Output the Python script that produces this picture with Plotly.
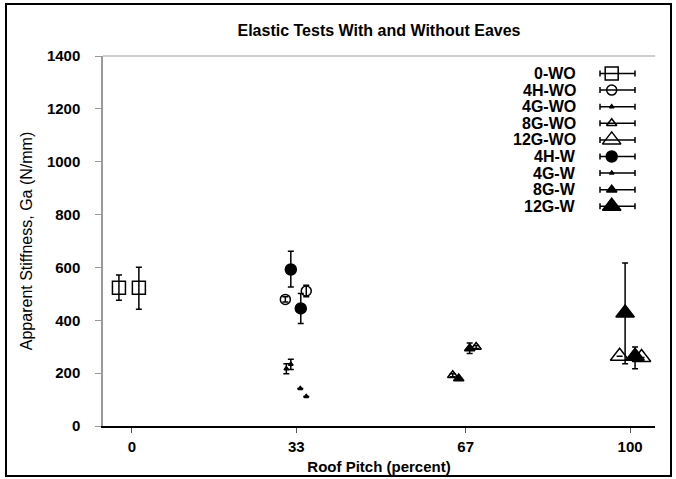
import plotly.graph_objects as go

# ---------------- data ----------------
series_names = ["0-WO", "4H-WO", "4G-WO", "8G-WO", "12G-WO", "4H-W", "4G-W", "8G-W", "12G-W"]
pitch = {
    "0-WO":   [-2.6, 1.4],
    "4H-WO":  [30.8, 35.0],
    "4G-WO":  [31.0, 31.9],
    "8G-WO":  [64.4, 69.1],
    "12G-WO": [97.9, 102.3],
    "4H-W":   [31.9, 33.9],
    "4G-W":   [33.8, 35.0],
    "8G-W":   [65.6, 67.8],
    "12G-W":  [99.0, 101.0],
}
stiffness = {
    "0-WO":   [523, 523],
    "4H-WO":  [479, 511],
    "4G-WO":  [217, 234],
    "8G-WO":  [192, 299],
    "12G-WO": [264, 259],
    "4H-W":   [592, 445],
    "4G-W":   [142, 112],
    "8G-W":   [180, 293],
    "12G-W":  [428, 264],
}
err_plus = {
    "0-WO":   [48, 78],
    "4H-WO":  [10, 22],
    "4G-WO":  [19, 19],
    "8G-WO":  [6, 6],
    "12G-WO": [0, 0],
    "4H-W":   [69, 56],
    "4G-W":   [0, 0],
    "8G-W":   [0, 21],
    "12G-W":  [189, 35],
}
err_minus = {
    "0-WO":   [47, 81],
    "4H-WO":  [10, 22],
    "4G-WO":  [19, 20],
    "8G-WO":  [6, 6],
    "12G-WO": [0, 0],
    "4H-W":   [66, 57],
    "4G-W":   [0, 0],
    "8G-W":   [0, 19],
    "12G-W":  [192, 47],
}
x_ticks = [0, 33, 67, 100]
y_ticks = [0, 200, 400, 600, 800, 1000, 1200, 1400]

# ---------------- styles ----------------
styles = {
    "0-WO":   dict(symbol="square-open", size=13),
    "4H-WO":  dict(symbol="circle-open", size=10),
    "4G-WO":  dict(symbol="triangle-up", size=4),
    "8G-WO":  dict(symbol="triangle-up-open", size=9),
    "12G-WO": dict(symbol="triangle-up-open", size=16),
    "4H-W":   dict(symbol="circle", size=11),
    "4G-W":   dict(symbol="triangle-up", size=4),
    "8G-W":   dict(symbol="triangle-up", size=9),
    "12G-W":  dict(symbol="triangle-up", size=16),
}

W, H = 676, 479
L, R, T, B = 103, 21, 56, 53
PW, PH = W - L - R, H - T - B
XR = [-5.8, 105.0]
YR = [0, 1400]
FONT = "Liberation Sans, Arial, sans-serif"


def px(xp):
    return (xp - L) / PW


def py(yp):
    return (H - B - yp) / PH


fig = go.Figure()

for name in series_names:
    st = styles[name]
    fig.add_trace(go.Scatter(
        x=pitch[name], y=stiffness[name], mode="markers", name=name,
        marker=dict(symbol=st["symbol"], size=st["size"], color="black",
                    line=dict(color="black", width=1.5)),
        error_y=dict(type="data", symmetric=False, array=err_plus[name],
                     arrayminus=err_minus[name], color="black", thickness=1.5, width=3),
        showlegend=False, cliponaxis=False,
    ))

# custom legend (text left, marker with horizontal bar right)
leg_x_marker = 611.7
leg_y0, leg_dy = 73.5, 16.6
for i, name in enumerate(series_names):
    st = styles[name]
    yy = leg_y0 + i * leg_dy
    fig.add_trace(go.Scatter(
        x=[leg_x_marker], y=[yy], mode="markers", xaxis="x3", yaxis="y3",
        marker=dict(symbol=st["symbol"], size=st["size"], color="black",
                    line=dict(color="black", width=1.5)),
        error_x=dict(type="data", symmetric=False, array=[23.3], arrayminus=[11.7],
                     color="black", thickness=1.5, width=3),
        showlegend=False, hoverinfo="skip", cliponaxis=False,
    ))
    fig.add_annotation(x=px(578), y=py(yy), xref="paper", yref="paper",
                       text=name, showarrow=False, xanchor="right", yanchor="middle",
                       font=dict(family=FONT, size=16, color="black", weight="bold"))

fig.update_layout(
    width=W, height=H,
    margin=dict(l=L, r=R, t=T, b=B, pad=0, autoexpand=False),
    paper_bgcolor="white", plot_bgcolor="white",
    showlegend=False,
    title=dict(text="Elastic Tests With and Without Eaves", x=0.5, xref="paper",
               y=1 - 30 / H, yanchor="middle",
               font=dict(family=FONT, size=16, color="black", weight="bold")),
    xaxis=dict(range=XR, tickvals=x_ticks, ticktext=[str(v) for v in x_ticks],
               automargin=False,
               showgrid=False, zeroline=False, showline=True, linecolor="black", linewidth=1.5,
               ticks="outside", ticklen=5, tickcolor="#555", tickwidth=1,
               ticklabelstandoff=1,
               tickfont=dict(family=FONT, size=15, color="black", weight="bold"),
               title=dict(text="Roof Pitch (percent)", standoff=8,
                          font=dict(family=FONT, size=15, color="black", weight="bold"))),
    xaxis2=dict(range=XR, overlaying="x", anchor="y", side="bottom", tickvals=x_ticks,
                automargin=False,
                showticklabels=False, showgrid=False, zeroline=False, showline=False,
                ticks="inside", ticklen=5, tickcolor="#555", tickwidth=1),
    yaxis=dict(range=YR, tickvals=y_ticks, showgrid=False, zeroline=False,
               automargin=False,
               showline=True, linecolor="#999", linewidth=1.5,
               ticks="outside", ticklen=6, tickcolor="#999", tickwidth=1,
               ticklabelstandoff=12,
               tickfont=dict(family=FONT, size=15, color="black", weight="bold"),
               title=dict(text="Apparent Stiffness, Ga (N/mm)", standoff=10,
                          font=dict(family=FONT, size=16, color="black"))),
    yaxis2=dict(range=YR, overlaying="y", anchor="x", side="right", tickvals=y_ticks,
                automargin=False,
                showticklabels=False, showgrid=False, zeroline=False,
                showline=True, linecolor="black", linewidth=1.5,
                ticks="inside", ticklen=6, tickcolor="#888", tickwidth=1.2),
    xaxis3=dict(range=[L, W - R], overlaying="x", anchor="y3", visible=False),
    yaxis3=dict(range=[H - B, T], overlaying="y", anchor="x3", visible=False),
)

# top border of plot area (thin gray)
fig.add_shape(type="line", xref="paper", yref="paper", x0=0, x1=1, y0=1, y1=1,
              line=dict(color="#999", width=1))
# outer frame of the figure
fig.add_shape(type="rect", xref="paper", yref="paper",
              x0=px(6), x1=px(671), y0=py(476), y1=py(4),
              line=dict(color="black", width=2), fillcolor="rgba(0,0,0,0)")

fig.write_html("out.html", config={"displayModeBar": False},
               post_script="document.body.style.margin='0';document.body.style.overflow='hidden';")
